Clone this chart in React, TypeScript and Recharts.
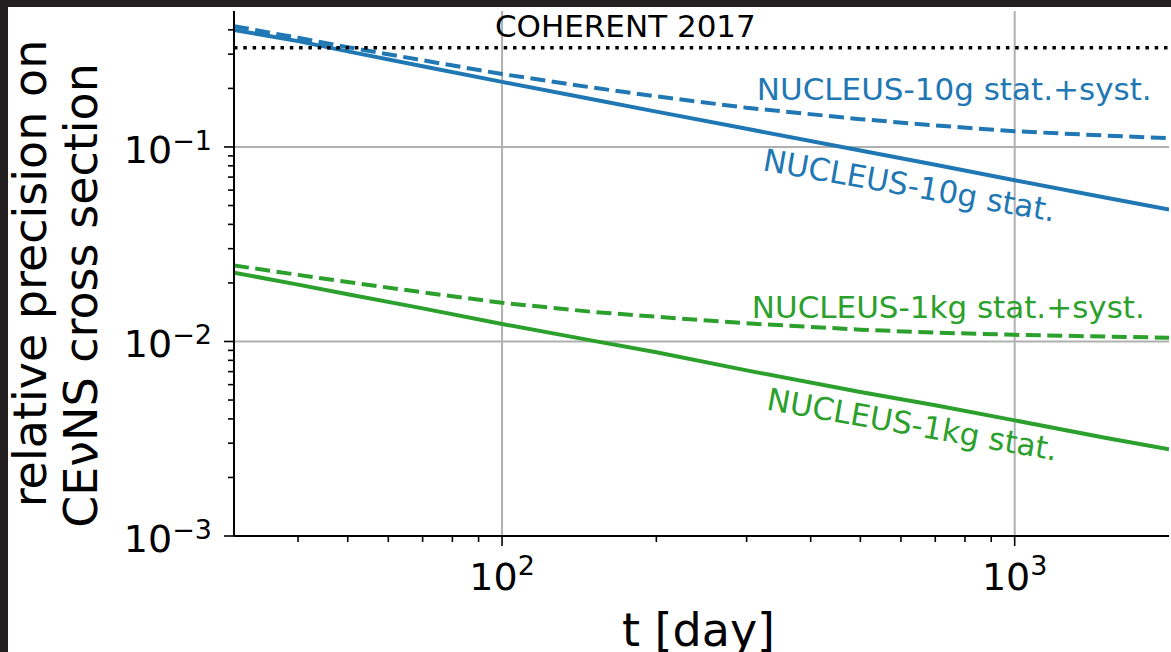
import React from 'react';
import { LineChart, Line, XAxis, YAxis, ReferenceLine, ReferenceDot, Label } from 'recharts';

// ---- data ----
const days = [30, 40, 50, 70, 100, 150, 200, 300, 500, 700, 1000, 1500, 2000];
const stat10g = [0.4, 0.35, 0.31, 0.26, 0.216, 0.176, 0.152, 0.124, 0.096, 0.081, 0.0674, 0.055, 0.0477];
const total10g = [0.418, 0.364, 0.326, 0.279, 0.237, 0.202, 0.182, 0.159, 0.139, 0.129, 0.1204, 0.1145, 0.111];
const stat1kg = [0.0226, 0.0196, 0.0175, 0.0148, 0.0123, 0.0101, 0.0088, 0.0071, 0.0055, 0.0047, 0.00393, 0.0032, 0.00279];
const total1kg = [0.0246, 0.022, 0.0202, 0.0179, 0.0158, 0.0142, 0.0134, 0.0124, 0.0115, 0.0111, 0.01082, 0.0106, 0.01045];
const coherent2017 = 0.324;

const xDomain = [30, 2000];
const yDomain = [0.001, 0.5];
const xMajorTicks = [100, 1000];
const xMajorLabels = ['2', '3'];
const xMinorTicks = [40, 50, 60, 70, 80, 90, 200, 300, 400, 500, 600, 700, 800, 900];
const yMajorTicks = [0.001, 0.01, 0.1];
const yMajorLabels = ['\u22123', '\u22122', '\u22121'];
const yMinorTicks = [
  0.002, 0.003, 0.004, 0.005, 0.006, 0.007, 0.008, 0.009,
  0.02, 0.03, 0.04, 0.05, 0.06, 0.07, 0.08, 0.09,
  0.2, 0.3, 0.4,
];
const xGrid = [100, 1000];
const yGrid = [0.01, 0.1];

const xLabel = 't [day]';
const yLabelLines = ['relative precision on', 'CE\u03bdNS cross section'];

const annotations = [
  { text: 'COHERENT 2017', t: 174, v: 0.366, color: '#000000', angle: 0, anchor: 'middle' },
  { text: 'NUCLEUS-10g stat.+syst.', t: 314, v: 0.174, color: '#1f77b4', angle: 0, anchor: 'start' },
  { text: 'NUCLEUS-10g stat.', t: 321, v: 0.0759, color: '#1f77b4', angle: 10, anchor: 'start' },
  { text: 'NUCLEUS-1kg stat.+syst.', t: 307, v: 0.01313, color: '#2ca02c', angle: 0, anchor: 'start' },
  { text: 'NUCLEUS-1kg stat.', t: 326.6, v: 0.00447, color: '#2ca02c', angle: 10, anchor: 'start' },
];

const FONT = 'DejaVu Sans, sans-serif';
const BLUE = '#1f77b4';
const GREEN = '#2ca02c';

const XTick = (props: any) => {
  const { x, y, payload } = props;
  const idx = xMajorTicks.indexOf(payload.value);
  const major = idx >= 0;
  return (
    <g>
      <line x1={x} y1={y} x2={x} y2={y + (major ? 10 : 6)} stroke="#000" strokeWidth={1.6} />
      {major && (
        <text x={x} y={y + 54} textAnchor="middle" fontFamily={FONT} fontSize={38} fill="#000">
          <tspan>10</tspan>
          <tspan dy={-15} fontSize={27}>{xMajorLabels[idx]}</tspan>
        </text>
      )}
    </g>
  );
};

const YTick = (props: any) => {
  const { x, y, payload } = props;
  const idx = yMajorTicks.findIndex((v) => Math.abs(v - payload.value) < 1e-12);
  const major = idx >= 0;
  return (
    <g>
      <line x1={x} y1={y} x2={x - (major ? 10 : 6)} y2={y} stroke="#000" strokeWidth={1.6} />
      {major && (
        <text x={x - 22} y={y + 16} textAnchor="end" fontFamily={FONT} fontSize={38} fill="#000">
          <tspan>10</tspan>
          <tspan dy={-13} fontSize={27}>{yMajorLabels[idx]}</tspan>
        </text>
      )}
    </g>
  );
};

const XLabelContent = (props: any) => {
  const vb = props.viewBox || {};
  return (
    <text x={vb.x + vb.width / 2 - 3} y={vb.y + 110} textAnchor="middle" fontFamily={FONT} fontSize={46} fill="#000">
      {xLabel}
    </text>
  );
};

const YLabelContent = (props: any) => {
  const vb = props.viewBox || {};
  const cy = vb.y + vb.height / 2;
  const cy2 = cy + 22;
  return (
    <g>
      <text x={46} y={cy} transform={`rotate(-90 46 ${cy})`} textAnchor="middle" fontFamily={FONT} fontSize={46} fill="#000">
        {yLabelLines[0]}
      </text>
      <text x={97} y={cy2} transform={`rotate(-90 97 ${cy2})`} textAnchor="middle" fontFamily={FONT} fontSize={46} fill="#000">
        {yLabelLines[1]}
      </text>
    </g>
  );
};

export default function App() {
  const data = days.map((t, i) => ({
    t,
    stat10g: stat10g[i],
    total10g: total10g[i],
    stat1kg: stat1kg[i],
    total1kg: total1kg[i],
  }));
  const xTicks = [...xMinorTicks, ...xMajorTicks].sort((a, b) => a - b);
  const yTicks = [...yMinorTicks, ...yMajorTicks].sort((a, b) => a - b);
  return (
    <div style={{ position: 'fixed', left: 0, top: 0, width: 1171, height: 652, background: '#231f20', overflow: 'hidden' }}>
      <div style={{ position: 'absolute', left: 8, top: 7, right: 0, bottom: 0, background: '#ffffff' }} />
      <div style={{ position: 'absolute', left: 0, top: 0 }}>
        <LineChart width={1171} height={652} data={data} margin={{ top: 11, right: 2, bottom: 0, left: 0 }}>
          <XAxis
            dataKey="t"
            type="number"
            scale="log"
            domain={xDomain}
            allowDataOverflow
            ticks={xTicks}
            interval={0}
            tick={(p: any) => <XTick {...p} />}
            tickLine={false}
            tickSize={0}
            tickMargin={0}
            height={116}
            axisLine={{ stroke: '#000', strokeWidth: 2 }}
          >
            <Label content={XLabelContent} />
          </XAxis>
          <XAxis
            xAxisId="top"
            orientation="top"
            type="number"
            scale="log"
            domain={xDomain}
            allowDataOverflow
            tick={false}
            tickLine={false}
            height={0}
            axisLine={{ stroke: '#000', strokeWidth: 2 }}
          />
          <YAxis
            type="number"
            scale="log"
            domain={yDomain}
            allowDataOverflow
            ticks={yTicks}
            interval={0}
            tick={(p: any) => <YTick {...p} />}
            tickLine={false}
            tickSize={0}
            tickMargin={0}
            width={234}
            axisLine={{ stroke: '#000', strokeWidth: 2 }}
          >
            <Label content={YLabelContent} />
          </YAxis>
          <YAxis
            yAxisId="right"
            orientation="right"
            type="number"
            scale="log"
            domain={yDomain}
            allowDataOverflow
            tick={false}
            tickLine={false}
            width={0}
            axisLine={{ stroke: '#000', strokeWidth: 2 }}
          />
          {xGrid.map((v) => (
            <ReferenceLine key={'gx' + v} x={v} stroke="#b0b0b0" strokeWidth={2} />
          ))}
          {yGrid.map((v) => (
            <ReferenceLine key={'gy' + v} y={v} stroke="#b0b0b0" strokeWidth={2} />
          ))}
          <Line dataKey="stat10g" stroke={BLUE} strokeWidth={4} dot={false} isAnimationActive={false} type="linear" />
          <Line dataKey="total10g" stroke={BLUE} strokeWidth={4} strokeDasharray="15 6.5" dot={false} isAnimationActive={false} type="linear" />
          <Line dataKey="stat1kg" stroke={GREEN} strokeWidth={4} dot={false} isAnimationActive={false} type="linear" />
          <Line dataKey="total1kg" stroke={GREEN} strokeWidth={4} strokeDasharray="15 6.5" dot={false} isAnimationActive={false} type="linear" />
          <ReferenceLine y={coherent2017} stroke="#000" strokeWidth={3.5} strokeDasharray="3.5 5.8" />
          {annotations.map((a) => (
            <ReferenceDot
              key={a.text}
              x={a.t}
              y={a.v}
              r={0}
              shape={(p: any) => (
                <text
                  x={p.cx}
                  y={p.cy}
                  transform={a.angle ? `rotate(${a.angle} ${p.cx} ${p.cy})` : undefined}
                  textAnchor={a.anchor}
                  fontFamily={FONT}
                  fontSize={31}
                  fill={a.color}
                >
                  {a.text}
                </text>
              )}
            />
          ))}
        </LineChart>
      </div>
    </div>
  );
}
